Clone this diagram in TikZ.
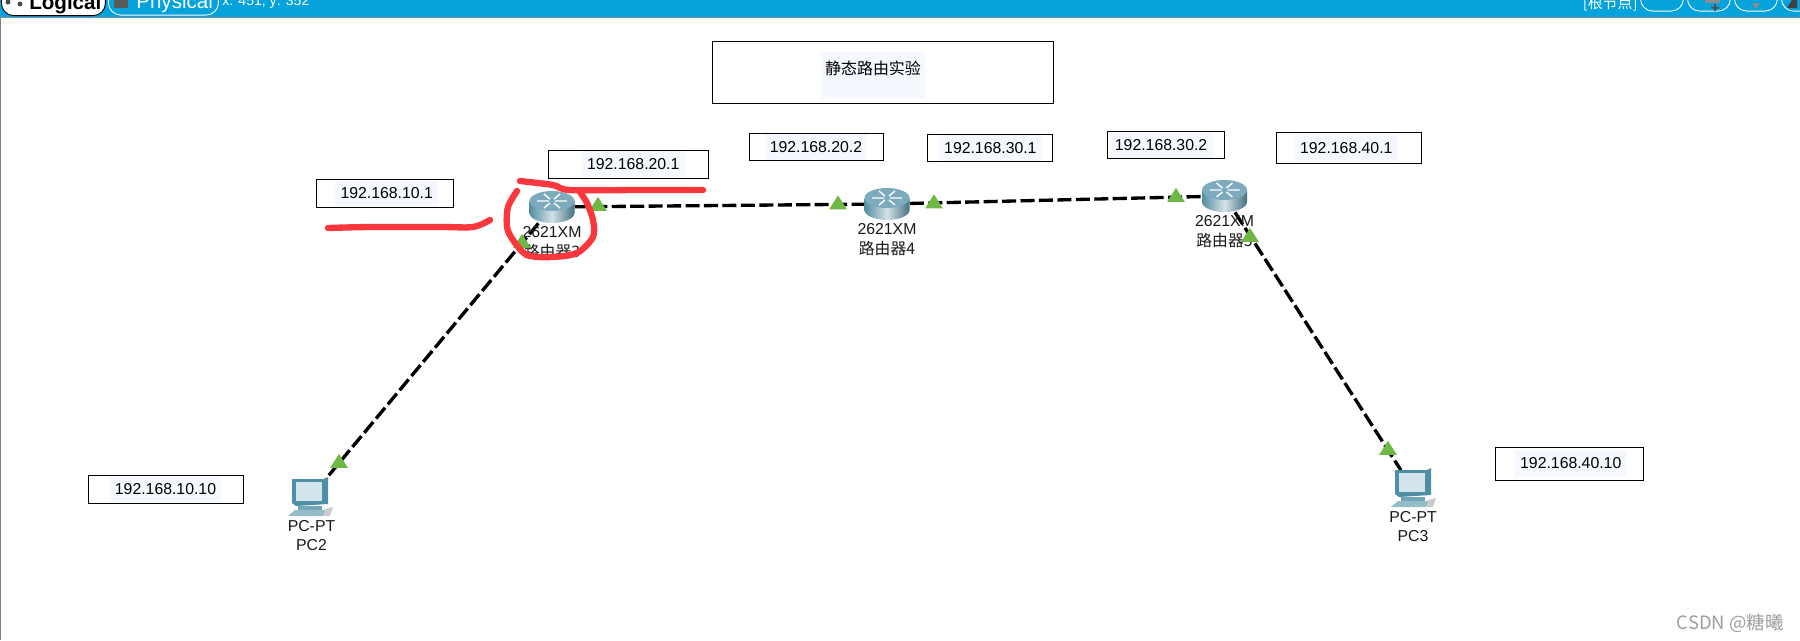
\documentclass[tikz,border=0pt]{standalone}
\usepackage{fontspec}
\setmainfont{Liberation Sans}
\newfontfamily\cjkfont{Noto Sans CJK SC}
\usepackage{xcolor}
\definecolor{barblue}{RGB}{5, 162, 219}
\definecolor{addrbg}{RGB}{246, 248, 255}
\definecolor{scribble}{RGB}{250, 55, 60}
\definecolor{portgreen}{RGB}{112, 184, 70}
\definecolor{routerteal}{RGB}{84, 140, 160}
\definecolor{routertop}{RGB}{125, 170, 188}
\definecolor{pcteal}{RGB}{78, 143, 165}
\definecolor{pcscreen}{RGB}{212, 228, 236}
\usetikzlibrary{
    shapes.geometric,
    positioning,
    calc
}
\setlength{\fboxsep}{0pt}
\newcommand{\addr}[1]{\colorbox{addrbg}{\rule[-4.5pt]{0pt}{15pt}\hspace{3pt}#1\hspace{3pt}}}

\begin{document}
\begin{tikzpicture}[
    x=0.02cm, y=-0.02cm,
    every text node part/.style={align=center},
    addrbox/.style={draw=black, line width=0.5pt, fill=white, inner sep=0pt, font=\fontsize{9}{11}\selectfont},
    devlabel/.style={inner sep=0pt, font=\fontsize{9}{11}\selectfont, text=black!90},
    device/.style={inner sep=0pt, minimum width=0.9cm, minimum height=0.64cm},
    pcdevice/.style={inner sep=0pt, minimum width=0.88cm, minimum height=0.74cm},
    link/.style={draw=black, line width=1.9pt, dash pattern=on 8pt off 2.5pt},
    port/.style={isosceles triangle, isosceles triangle apex angle=65, shape border rotate=90, fill=portgreen, inner sep=0pt, minimum height=0.28cm, minimum width=0.3cm},
    redpen/.style={draw=scribble, line width=3.6pt, line cap=round, line join=round},
    barbtn/.style={draw=white, line width=0.5pt, rounded corners=7pt, inner sep=0pt},
    router/.pic={
        \shade[left color=routerteal, right color=routerteal!80!black, middle color=white!75!routerteal] (-22.5,-6) -- (-22.5,6) arc[start angle=180, end angle=0, x radius=22.5, y radius=10] -- (22.5,-6) -- cycle;
        \fill[routertop] (0,-6) ellipse[x radius=22.5, y radius=10];
        \draw[white, line width=0.8pt] (-15,-6) -- (-3,-6) (3,-6) -- (15,-6) (-8,-13) -- (-2,-8) (8,1) -- (2,-4) (8,-13) -- (2,-8) (-8,1) -- (-2,-4);
    },
    pcicon/.pic={
        \fill[pcteal] (-18,-19) -- (14,-19) -- (18,-21) -- (18,6) -- (-14,8) -- (-18,5) -- cycle;
        \fill[pcscreen] (-14,-16) rectangle (12,3);
        \fill[pcteal!80!white] (-12,8) rectangle (12,13);
        \fill[pcteal!60!white] (-22,18) -- (-15,12) -- (16,12) -- (13,18) -- cycle;
        \fill[black!20] (15,11) -- (23,9) -- (20,18) -- (14,18) -- cycle;
    }
]
\clip (0,0) rectangle (1800,640);
\useasboundingbox (0,0) rectangle (1800,640);

% ==================== TOOLBAR ====================
\fill[barblue] (0,-2) rectangle (1800,17);
\draw[black!45, line width=0.6pt] (0,17.5) -- (1800,17.5);
\draw[black!50, line width=0.8pt] (0.5,17.5) -- (0.5,640);

\node[barbtn, fill=white, draw=black, minimum width=2.08cm, minimum height=0.7cm, anchor=south west] (btn_logical) at (1,16) {};
\fill[black!70] (8,2) circle[radius=2.5] (20,4) circle[radius=2.5];
\node[font=\fontsize{11.7}{12}\selectfont\bfseries, anchor=base west, inner sep=0pt] (txt_logical) at (29,9) {Logical};
\node[barbtn, minimum width=2.2cm, minimum height=0.7cm, anchor=south west] (btn_physical) at (108,15.5) {};
\fill[black!65] (114,-1) rectangle (128,8);
\node[font=\fontsize{11.7}{12}\selectfont, text=white, anchor=base west, inner sep=0pt] (txt_physical) at (136,8.5) {Physical};
\node[font=\fontsize{8}{8}\selectfont, text=white, anchor=base west, inner sep=0pt] (txt_xy) at (222,5) {x: 451, y: 352};
\node[font=\fontsize{8.5}{8}\cjkfont, text=white, anchor=base east, inner sep=0pt] (txt_root) at (1638,8) {[根节点]};
\foreach \i/\xpos in {0/1640, 1/1687, 2/1734, 3/1781} {
    \node[barbtn, minimum width=0.86cm, minimum height=0.6cm, anchor=south west] (btn_tool\i) at (\xpos,11.5) {};
}
\fill[black!45] (1705,0) rectangle (1720,3);
\fill[black!70] (1711,7) rectangle (1719,8.5) (1714,4) rectangle (1716,11);
\fill[black!45] (1752,3) -- (1760,3) -- (1756,9) -- cycle;
\fill[black!75] (1787,8) -- (1792,0) -- (1797,0) -- (1797,8) -- cycle;

% ==================== TITLE ====================
\node[addrbox, minimum width=6.82cm, minimum height=1.24cm] (title_note) at (883,72) {};
\node[fill=addrbg, minimum width=2.08cm, minimum height=0.94cm, inner sep=0pt] (title_bg) at (873,75.5) {};
\node[font=\fontsize{9.1}{11}\cjkfont, inner sep=0pt, above=0.46cm of title_bg.south, anchor=south] (title_text) {静态路由实验};

% ==================== ADDRESS NOTES ====================
\node[addrbox, minimum width=2.74cm, minimum height=0.56cm] (note_r3a) at (384.5,193) {\hspace*{2.5pt}\addr{192.168.10.1}};
\node[addrbox, minimum width=3.2cm, minimum height=0.56cm] (note_r3b) at (628,164) {\hspace*{6pt}\addr{192.168.20.1}};
\node[addrbox, minimum width=2.68cm, minimum height=0.48cm] (note_r4a) at (816,147) {\addr{192.168.20.2}};
\node[addrbox, minimum width=2.5cm, minimum height=0.48cm] (note_r4b) at (989.5,148) {\hspace*{1pt}\addr{192.168.30.1}};
\node[addrbox, minimum width=2.34cm, minimum height=0.54cm] (note_r5a) at (1165.5,145) {\addr{192.168.30.2}\hspace*{5pt}};
\node[addrbox, minimum width=2.9cm, minimum height=0.62cm] (note_r5b) at (1348.5,148) {\addr{192.168.40.1}\hspace*{2.5pt}};
\node[addrbox, minimum width=3.1cm, minimum height=0.56cm] (note_pc2) at (165.5,489) {\addr{192.168.10.10}};
\node[addrbox, minimum width=2.96cm, minimum height=0.66cm] (note_pc3) at (1569,463.5) {\hspace*{2pt}\addr{192.168.40.10}};

% ==================== DEVICES ====================
\node[device] (r3) at (552,207) {};
\node[device] (r4) at (887,204) {};
\node[device] (r5) at (1224.5,196) {};
\node[pcdevice] (pc2) at (310,498) {};
\node[pcdevice] (pc3) at (1413,489) {};

% ==================== LINKS ====================
\draw[link] (r3) -- (r4);
\draw[link] (r4) -- (r5);
\draw[link] (r3) -- (pc2);
\draw[link] (r5) -- (pc3);

\pic at (r3) {router};
\pic at (r4) {router};
\pic at (r5) {router};
\pic at (pc2) {pcicon};
\pic at (pc3) {pcicon};

\node[devlabel, below=0.06cm of r3] (lab_r3) {2621XM\\{\cjkfont 路由器3}};
\node[devlabel, below=0.06cm of r4] (lab_r4) {2621XM\\{\cjkfont 路由器4}};
\node[devlabel, below=0.06cm of r5] (lab_r5) {2621XM\\{\cjkfont 路由器5}};
\node[devlabel, below=0.06cm of pc2, xshift=0.03cm] (lab_pc2) {PC-PT\\PC2};
\node[devlabel, below=0.06cm of pc3] (lab_pc3) {PC-PT\\PC3};

% ==================== PORT LIGHTS ====================
\node[port] (p_r3e) at (598,206) {};
\node[port] (p_r3s) at (522,243) {};
\node[port] (p_r4w) at (838,204.5) {};
\node[port] (p_r4e) at (934,203.5) {};
\node[port] (p_r5w) at (1176,197) {};
\node[port] (p_r5s) at (1250,237) {};
\node[port] (p_pc2) at (339,463) {};
\node[port] (p_pc3) at (1388,450) {};

% ==================== RED MARKS ====================
\draw[redpen] plot[smooth] coordinates {(520,181) (553,185) (570,190) (640,190) (703,190)};
\draw[redpen] plot[smooth] coordinates {(328,228) (370,227) (440,227) (473,227) (490,220)};
\draw[redpen] plot[smooth] coordinates {(517,191) (508,207) (507,227) (513,240) (527,255) (552,257) (577,253) (593,237) (593,220) (587,203) (580,192)};

% ==================== WATERMARK ====================
\node[font=\fontsize{10.5}{12}\cjkfont, text=black!38, anchor=east, inner sep=0pt] (mark) at (1784,623) {CSDN @糖曦};

\end{tikzpicture}
\end{document}
